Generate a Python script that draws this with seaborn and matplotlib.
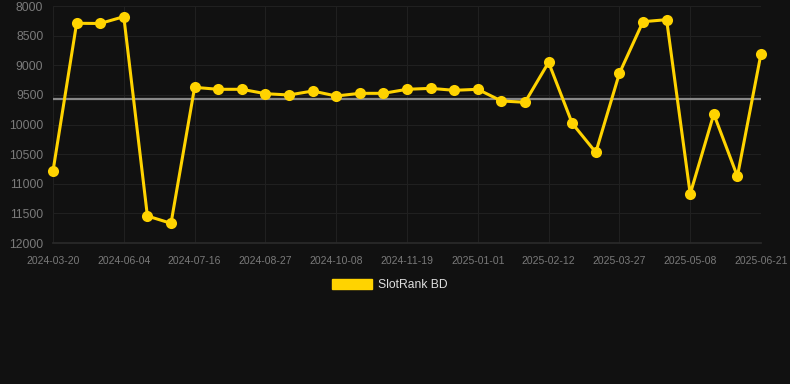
import pandas as pd
import matplotlib
matplotlib.use("Agg")
import matplotlib.pyplot as plt
import seaborn as sns
from matplotlib.patches import Patch

# Dates (one point about every two weeks, labels on every third)
dates = [
    "2024-03-20", "2024-04-23", "2024-05-14", "2024-06-04", "2024-06-18",
    "2024-07-02", "2024-07-16", "2024-07-30", "2024-08-13", "2024-08-27",
    "2024-09-10", "2024-09-24", "2024-10-08", "2024-10-22", "2024-11-05",
    "2024-11-19", "2024-12-03", "2024-12-17", "2025-01-01", "2025-01-15",
    "2025-01-29", "2025-02-12", "2025-02-26", "2025-03-12", "2025-03-27",
    "2025-04-10", "2025-04-24", "2025-05-08", "2025-05-22", "2025-06-05",
    "2025-06-21",
]
ranks = [
    10785, 8292, 8295, 8180, 11544,
    11668, 9373, 9406, 9406, 9480,
    9502, 9435, 9519, 9474, 9474,
    9406, 9390, 9423, 9406, 9603,
    9625, 8951, 9980, 10470, 9136,
    8265, 8231, 11173, 9823, 10875,
    8805,
]
average_rank = 9565
series_name = "SlotRank BD"
y_ticks = [8000, 8500, 9000, 9500, 10000, 10500, 11000, 11500, 12000]

df = pd.DataFrame({"pos": range(len(dates)), "date": dates, "rank": ranks})

bg = "#111111"
gold = "#FFD300"
grid_col = "#202020"
tick_col = "#7a7a7a"

sns.set_theme(style="dark")
plt.rcParams["font.family"] = ["Liberation Sans", "DejaVu Sans"]

fig = plt.figure(figsize=(7.9, 3.84), dpi=100, facecolor=bg)
ax = fig.add_axes([53 / 790, 1 - 243 / 384, 708 / 790, 237 / 384])
ax.set_facecolor(bg)

# grid
for v in y_ticks:
    ax.axhline(v, color=grid_col, lw=0.8, zorder=0)
for i in range(0, len(dates), 3):
    ax.axvline(i, color=grid_col, lw=0.8, zorder=0)

ax.axhline(average_rank, color="#888888", lw=1.6, zorder=1)

sns.lineplot(data=df, x="pos", y="rank", ax=ax, color=gold, lw=2.2,
             marker="o", markersize=8, markeredgewidth=0, zorder=3,
             clip_on=False)

ax.set_xlim(0, len(dates) - 1)
ax.set_ylim(12000, 8000)
ax.set_yticks(y_ticks)
ax.set_yticklabels([str(v) for v in y_ticks], color=tick_col, fontsize=8.8)
ax.set_xticks(range(0, len(dates), 3))
ax.set_xticklabels(dates[::3], color=tick_col, fontsize=7.5)
ax.tick_params(axis="y", length=0, pad=7)
ax.tick_params(axis="x", length=0, pad=9)
ax.set_xlabel("")
ax.set_ylabel("")
for s in ["top", "right", "left"]:
    ax.spines[s].set_visible(False)
ax.spines["bottom"].set_color("#2a2a2a")
ax.grid(False)

handle = Patch(facecolor=gold, edgecolor=gold, label=series_name)
fig.legend(handles=[handle], loc="center", bbox_to_anchor=(0.493, 1 - 285 / 384),
           frameon=False, labelcolor="#dddddd", fontsize=8.7,
           handlelength=3.3, handleheight=0.9, handletextpad=0.5)

fig.savefig("out.png", dpi=100, facecolor=bg)
